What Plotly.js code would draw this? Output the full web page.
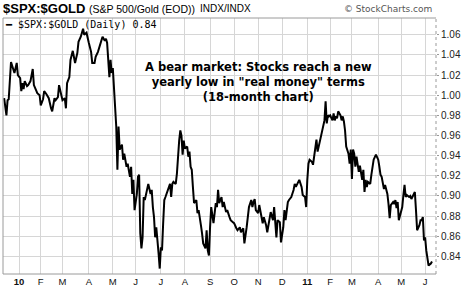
<!DOCTYPE html>
<html>
<head>
<meta charset="utf-8">
<script src="https://cdn.plot.ly/plotly-3.0.1.min.js"></script>
<style>html,body{margin:0;padding:0;background:#fff;}#chart{width:465px;height:289px;}</style>
</head>
<body>
<div id="chart"></div>
<script>
// ---- data ----
const dates = [
"2009-12-14","2009-12-16","2009-12-17","2009-12-18","2009-12-22","2009-12-23","2009-12-28","2009-12-29","2009-12-30","2009-12-31",
"2010-01-05","2010-01-06","2010-01-07","2010-01-08","2010-01-11","2010-01-13","2010-01-14","2010-01-19","2010-01-21","2010-01-22","2010-01-26","2010-01-27","2010-01-29",
"2010-02-01","2010-02-03","2010-02-04","2010-02-08","2010-02-09","2010-02-10","2010-02-12","2010-02-16","2010-02-18","2010-02-19","2010-02-23","2010-02-24","2010-02-26",
"2010-03-01","2010-03-03","2010-03-04","2010-03-05","2010-03-09","2010-03-10","2010-03-11","2010-03-12","2010-03-16","2010-03-18","2010-03-19","2010-03-23","2010-03-25","2010-03-26","2010-03-30","2010-03-31",
"2010-04-01","2010-04-06","2010-04-07","2010-04-09","2010-04-12","2010-04-14","2010-04-15","2010-04-19","2010-04-20","2010-04-22","2010-04-23","2010-04-26","2010-04-27","2010-04-28","2010-04-29","2010-04-30",
"2010-05-03","2010-05-04","2010-05-05","2010-05-06","2010-05-07","2010-05-10","2010-05-11","2010-05-13","2010-05-14","2010-05-17","2010-05-19","2010-05-20","2010-05-24","2010-05-25","2010-05-26","2010-05-27","2010-05-28",
"2010-06-02","2010-06-03","2010-06-04","2010-06-07","2010-06-08","2010-06-09","2010-06-10","2010-06-11","2010-06-15","2010-06-16","2010-06-18","2010-06-21","2010-06-22","2010-06-23","2010-06-24","2010-06-25","2010-06-29","2010-06-30",
"2010-07-01","2010-07-02","2010-07-06","2010-07-07","2010-07-08","2010-07-12","2010-07-13","2010-07-14","2010-07-15","2010-07-16","2010-07-19","2010-07-21","2010-07-22","2010-07-23","2010-07-26","2010-07-27","2010-07-28","2010-07-29","2010-07-30",
"2010-08-02","2010-08-04","2010-08-05","2010-08-06","2010-08-09","2010-08-10","2010-08-11","2010-08-12","2010-08-16","2010-08-17","2010-08-18","2010-08-19","2010-08-20","2010-08-23","2010-08-24","2010-08-26","2010-08-27","2010-08-30","2010-08-31",
"2010-09-01","2010-09-02","2010-09-07","2010-09-08","2010-09-09","2010-09-10","2010-09-13","2010-09-14","2010-09-16","2010-09-17","2010-09-20","2010-09-22","2010-09-23","2010-09-27","2010-09-28","2010-09-30",
"2010-10-01","2010-10-05","2010-10-06","2010-10-08","2010-10-11","2010-10-13","2010-10-14","2010-10-18","2010-10-19","2010-10-20","2010-10-22","2010-10-25","2010-10-26","2010-10-27","2010-10-28",
"2010-11-01","2010-11-02","2010-11-04","2010-11-05","2010-11-08","2010-11-10","2010-11-11","2010-11-15","2010-11-16","2010-11-18","2010-11-19","2010-11-23","2010-11-24","2010-11-29","2010-11-30",
"2010-12-02","2010-12-03","2010-12-06","2010-12-08","2010-12-09","2010-12-13","2010-12-15","2010-12-16","2010-12-17","2010-12-21","2010-12-22","2010-12-27","2010-12-28","2010-12-30","2010-12-31",
"2011-01-03","2011-01-04","2011-01-05","2011-01-07","2011-01-10","2011-01-11","2011-01-12","2011-01-13","2011-01-14","2011-01-19","2011-01-20","2011-01-21","2011-01-24","2011-01-25","2011-01-26","2011-01-27","2011-01-28","2011-01-31",
"2011-02-01","2011-02-03","2011-02-04","2011-02-07","2011-02-08","2011-02-09","2011-02-10","2011-02-14","2011-02-15","2011-02-16","2011-02-17","2011-02-18","2011-02-22","2011-02-24","2011-02-25","2011-02-28",
"2011-03-01","2011-03-02","2011-03-03","2011-03-04","2011-03-07","2011-03-09","2011-03-10","2011-03-11","2011-03-14","2011-03-15","2011-03-16","2011-03-17","2011-03-18","2011-03-21","2011-03-23","2011-03-24","2011-03-25","2011-03-28","2011-03-30","2011-03-31",
"2011-04-01","2011-04-04","2011-04-05","2011-04-06","2011-04-08","2011-04-11","2011-04-12","2011-04-13","2011-04-14","2011-04-15","2011-04-18","2011-04-20","2011-04-21","2011-04-25","2011-04-26","2011-04-27","2011-04-28",
"2011-05-02","2011-05-03","2011-05-04","2011-05-05","2011-05-06","2011-05-09","2011-05-11","2011-05-12","2011-05-13","2011-05-16","2011-05-17","2011-05-18","2011-05-19","2011-05-20","2011-05-24","2011-05-25","2011-05-26","2011-05-27","2011-05-31",
"2011-06-01","2011-06-02","2011-06-03","2011-06-06","2011-06-08","2011-06-09"
];
const ratio = [
0.997,0.980,0.995,0.996,1.033,1.030,1.022,1.027,1.032,1.020,
1.017,1.004,1.012,1.006,1.014,1.009,1.010,1.014,1.026,1.010,1.005,1.002,1.000,
0.990,0.996,1.004,1.001,0.999,0.997,0.987,0.984,0.997,0.995,0.998,1.010,1.000,
0.995,0.997,0.987,1.012,1.018,1.035,1.040,1.044,1.032,1.042,1.053,1.058,1.066,1.060,1.062,1.055,
1.052,1.043,1.032,1.032,1.038,1.043,1.047,1.053,1.058,1.054,1.056,1.052,1.028,1.018,1.035,1.022,
1.027,1.009,0.995,0.969,0.926,0.969,0.946,0.951,0.936,0.942,0.929,0.932,0.919,0.929,0.902,0.916,0.886,
0.902,0.919,0.921,0.863,0.848,0.859,0.899,0.896,0.909,0.912,0.902,0.906,0.889,0.879,0.859,0.869,0.843,0.828,
0.849,0.846,0.873,0.896,0.899,0.906,0.909,0.912,0.899,0.912,0.914,0.912,0.922,0.942,0.955,0.965,0.960,0.941,0.955,
0.947,0.949,0.939,0.944,0.929,0.926,0.909,0.893,0.896,0.883,0.886,0.876,0.871,0.863,0.853,0.848,0.866,0.846,0.841,
0.869,0.889,0.873,0.886,0.893,0.889,0.906,0.893,0.899,0.889,0.894,0.884,0.886,0.879,0.876,0.874,
0.873,0.868,0.866,0.869,0.864,0.868,0.853,0.869,0.879,0.889,0.896,0.889,0.894,0.897,0.886,
0.883,0.891,0.879,0.873,0.879,0.871,0.864,0.879,0.884,0.876,0.889,0.859,0.876,0.874,0.854,
0.869,0.886,0.876,0.894,0.896,0.899,0.906,0.912,0.909,0.914,0.916,0.909,0.901,0.899,0.889,
0.916,0.932,0.936,0.934,0.931,0.939,0.946,0.956,0.944,0.954,0.962,0.965,0.972,0.975,0.994,0.972,0.980,0.979,
0.980,0.975,0.982,0.975,0.979,0.977,0.984,0.980,0.975,0.979,0.974,0.965,0.949,0.942,0.932,0.946,
0.917,0.946,0.942,0.929,0.939,0.924,0.930,0.921,0.916,0.926,0.904,0.916,0.909,0.914,0.912,0.921,0.929,0.936,0.941,0.939,
0.936,0.929,0.921,0.919,0.907,0.911,0.907,0.902,0.892,0.878,0.891,0.894,0.892,0.896,0.888,0.894,0.876,
0.886,0.889,0.901,0.911,0.899,0.901,0.899,0.900,0.897,0.899,0.902,0.904,0.886,0.866,0.871,0.876,0.876,0.879,0.856,
0.859,0.846,0.838,0.831,0.833,0.835
];
const monthTickDates = ["2010-01-04","2010-02-01","2010-03-01","2010-04-01","2010-05-03","2010-06-01","2010-07-01","2010-08-02","2010-09-01","2010-10-01","2010-11-01","2010-12-01","2011-01-03","2011-02-01","2011-03-01","2011-04-01","2011-05-02","2011-06-01"];
const monthTickLabels = ["<b>10</b>","F","M","A","M","J","J","A","S","O","N","D","<b>11</b>","F","M","A","M","J"];
const holidays = ["2009-12-25","2010-01-01","2010-01-18","2010-02-15","2010-04-02","2010-05-31","2010-07-05","2010-09-06","2010-11-25","2010-12-24","2011-01-17","2011-02-21","2011-04-22","2011-05-30"];
const lastValue = "0.84";

// ---- layout helpers (pixel -> paper) ----
const W = 465, H = 289, M = {l:3, r:29, t:18, b:15};
const pw = W - M.l - M.r, ph = H - M.t - M.b;
const px = X => (X - M.l) / pw;
const py = Y => (H - M.b - Y) / ph;

const SANS = 'Liberation Sans, Arial, sans-serif';

const trace = {
  x: dates, y: ratio, type: 'scatter', mode: 'lines',
  line: {color: '#000', width: 2}, showlegend: false, hoverinfo: 'skip'
};

const grid = '#d6d6d6';
const layout = {
  width: W, height: H, margin: M,
  paper_bgcolor: '#fff', plot_bgcolor: '#fff',
  showlegend: false,
  xaxis: {
    type: 'date',
    range: ['2009-12-11', '2011-06-14 12:00'],
    rangebreaks: [{bounds: ['sat', 'mon']}, {values: holidays}],
    tickmode: 'array', tickvals: monthTickDates, ticktext: monthTickLabels,
    showgrid: true, gridcolor: grid, gridwidth: 1,
    ticks: '', showline: false, zeroline: false,
    tickfont: {family: SANS, size: 9.5, color: '#111'},
    fixedrange: true
  },
  yaxis: {
    side: 'right',
    range: [0.8226, 1.0766],
    tick0: 0.84, dtick: 0.02, tickformat: '.2f',
    showgrid: true, gridcolor: grid, gridwidth: 1,
    ticks: 'outside', ticklen: 2, tickcolor: '#999',
    showline: false, zeroline: false,
    tickfont: {family: SANS, size: 10, color: '#222'},
    fixedrange: true
  },
  shapes: [
    {type:'line', xref:'paper', yref:'paper', x0:0, x1:0, y0:0, y1:1, line:{color:'#9a9a9a', width:1}},
    {type:'line', xref:'paper', yref:'paper', x0:0, x1:1, y0:1, y1:1, line:{color:'#9a9a9a', width:1}},
    {type:'line', xref:'paper', yref:'paper', x0:0, x1:1, y0:0, y1:0, line:{color:'#9a9a9a', width:1}},
    {type:'line', xref:'paper', yref:'paper', x0:1, x1:1, y0:0, y1:1, line:{color:'#9a9a9a', width:1, dash:'dot'}}
  ],
  annotations: [
    {text:'<b>$SPX:$GOLD</b>', xref:'paper', yref:'paper', x:px(1), y:py(8.5), xanchor:'left', yanchor:'middle', showarrow:false,
     font:{family:SANS, size:13, color:'#000'}},
    {text:'(S&P 500/Gold (EOD))', xref:'paper', yref:'paper', x:px(87), y:py(8.5), xanchor:'left', yanchor:'middle', showarrow:false,
     font:{family:SANS, size:10.5, color:'#000'}},
    {text:'INDX/INDX', xref:'paper', yref:'paper', x:px(198), y:py(8.5), xanchor:'left', yanchor:'middle', showarrow:false,
     font:{family:SANS, size:10, color:'#000'}},
    {text:'© StockCharts.com', xref:'paper', yref:'paper', x:px(434), y:py(9), xanchor:'right', yanchor:'middle', showarrow:false,
     font:{family:'DejaVu Sans', size:9, color:'#555'}},
    {text:'━ $SPX:$GOLD (Daily) ' + lastValue, xref:'paper', yref:'paper', x:px(3), y:py(24.5), xanchor:'left', yanchor:'middle', showarrow:false,
     font:{family:'DejaVu Sans Mono', size:10, color:'#000'}},
    {text:'<b>A bear market: Stocks reach a new<br>yearly low in "real money" terms<br>(18-month chart)</b>', xref:'paper', yref:'paper',
     x:px(258), y:py(81.7), xanchor:'center', yanchor:'middle', align:'center', showarrow:false,
     font:{family:'DejaVu Sans, Verdana', size:11.5, color:'#000'}}
  ]
};

Plotly.newPlot('chart', [trace], layout, {staticPlot: true, displayModeBar: false});
</script>
</body>
</html>
